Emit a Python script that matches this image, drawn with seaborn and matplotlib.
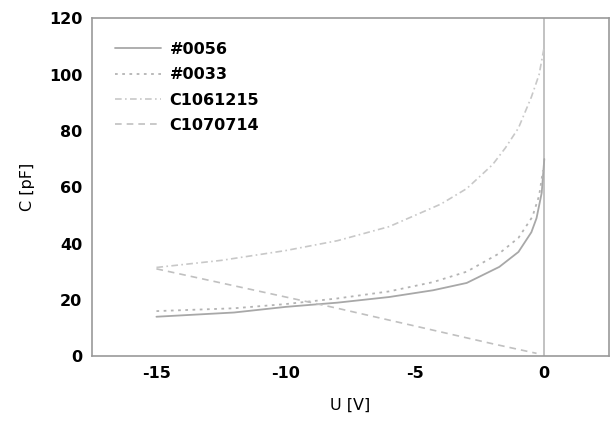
import numpy as np
import pandas as pd
import matplotlib
matplotlib.use("Agg")
import matplotlib.pyplot as plt
import seaborn as sns

sns.set_style("white")
plt.rcParams['font.family'] = ['DejaVu Sans']
plt.rcParams['font.weight'] = 'bold'
plt.rcParams['axes.unicode_minus'] = False
plt.rcParams['text.color'] = 'black'
plt.rcParams['axes.labelcolor'] = 'black'
plt.rcParams['xtick.color'] = 'black'
plt.rcParams['ytick.color'] = 'black'

# C-V curves
u_0056 = [-15, -12, -10, -8, -6, -4.3, -3, -1.74, -1, -0.5, -0.3, -0.1, 0]
c_0056 = [14, 15.5, 17.5, 19, 21, 23.4, 26, 31.7, 37, 44, 49, 58, 70]

u_0033 = [-15, -12, -10, -8, -6, -4.3, -3, -1.74, -1, -0.46, -0.2, -0.05]
c_0033 = [16, 17, 18.5, 20.5, 23, 26.3, 30, 36.5, 42, 49.5, 57, 66]

u_1061215 = [-15, -12.5, -10, -8, -6, -5, -4, -3, -2, -1.5, -1, -0.5, -0.2, 0]
c_1061215 = [31.5, 34, 37.5, 41, 46, 50, 54, 59.5, 68, 74, 81, 92, 100, 110]

u_1070714 = [-15, -12, -10, -8, -6, -4, -2, -1, -0.3]
c_1070714 = [31, 25, 21, 17, 12.8, 8.6, 4.4, 2.4, 1.0]

labels = ["#0056", "#0033", "C1061215", "C1070714"]

fig = plt.figure(figsize=(6.12, 4.23), dpi=100)
ax = fig.add_axes([0.150, 0.158, 0.845, 0.799])

ax.axvline(0, color='#b8b8b8', linewidth=1.2, zorder=1)

sns.lineplot(x=u_0056, y=c_0056, ax=ax, color='#a8a8a8', linewidth=1.3, label=labels[0])
sns.lineplot(x=u_0033, y=c_0033, ax=ax, color='#b4b4b4', linewidth=1.3, linestyle=(0, (1.5, 2.5)), label=labels[1])
sns.lineplot(x=u_1061215, y=c_1061215, ax=ax, color='#c8c8c8', linewidth=1.2, linestyle=(0, (4, 2, 1, 2)), label=labels[2])
sns.lineplot(x=u_1070714, y=c_1070714, ax=ax, color='#c0c0c0', linewidth=1.2, linestyle=(0, (4, 3)), label=labels[3])

ax.set_xlim(-17.5, 2.5)
ax.set_ylim(0, 120)
ax.set_xticks([-15, -10, -5, 0])
ax.set_yticks([0, 20, 40, 60, 80, 100, 120])
ax.tick_params(axis='both', labelsize=11.5, length=3, color='#aaaaaa', direction='in', pad=7)
ax.set_xlabel("U [V]", fontsize=11.5, fontweight='normal', labelpad=12)
ax.set_ylabel("C [pF]", fontsize=11.5, fontweight='normal', labelpad=10)
for s in ax.spines.values():
    s.set_color('#999999')
    s.set_linewidth(1.2)

leg = ax.legend(loc='upper left', frameon=False, fontsize=11.5, handlelength=2.9,
                handletextpad=0.5, labelspacing=0.65,
                bbox_to_anchor=(0.045, 0.93), borderaxespad=0.0, borderpad=0.0)

fig.savefig("out.png", dpi=100)
